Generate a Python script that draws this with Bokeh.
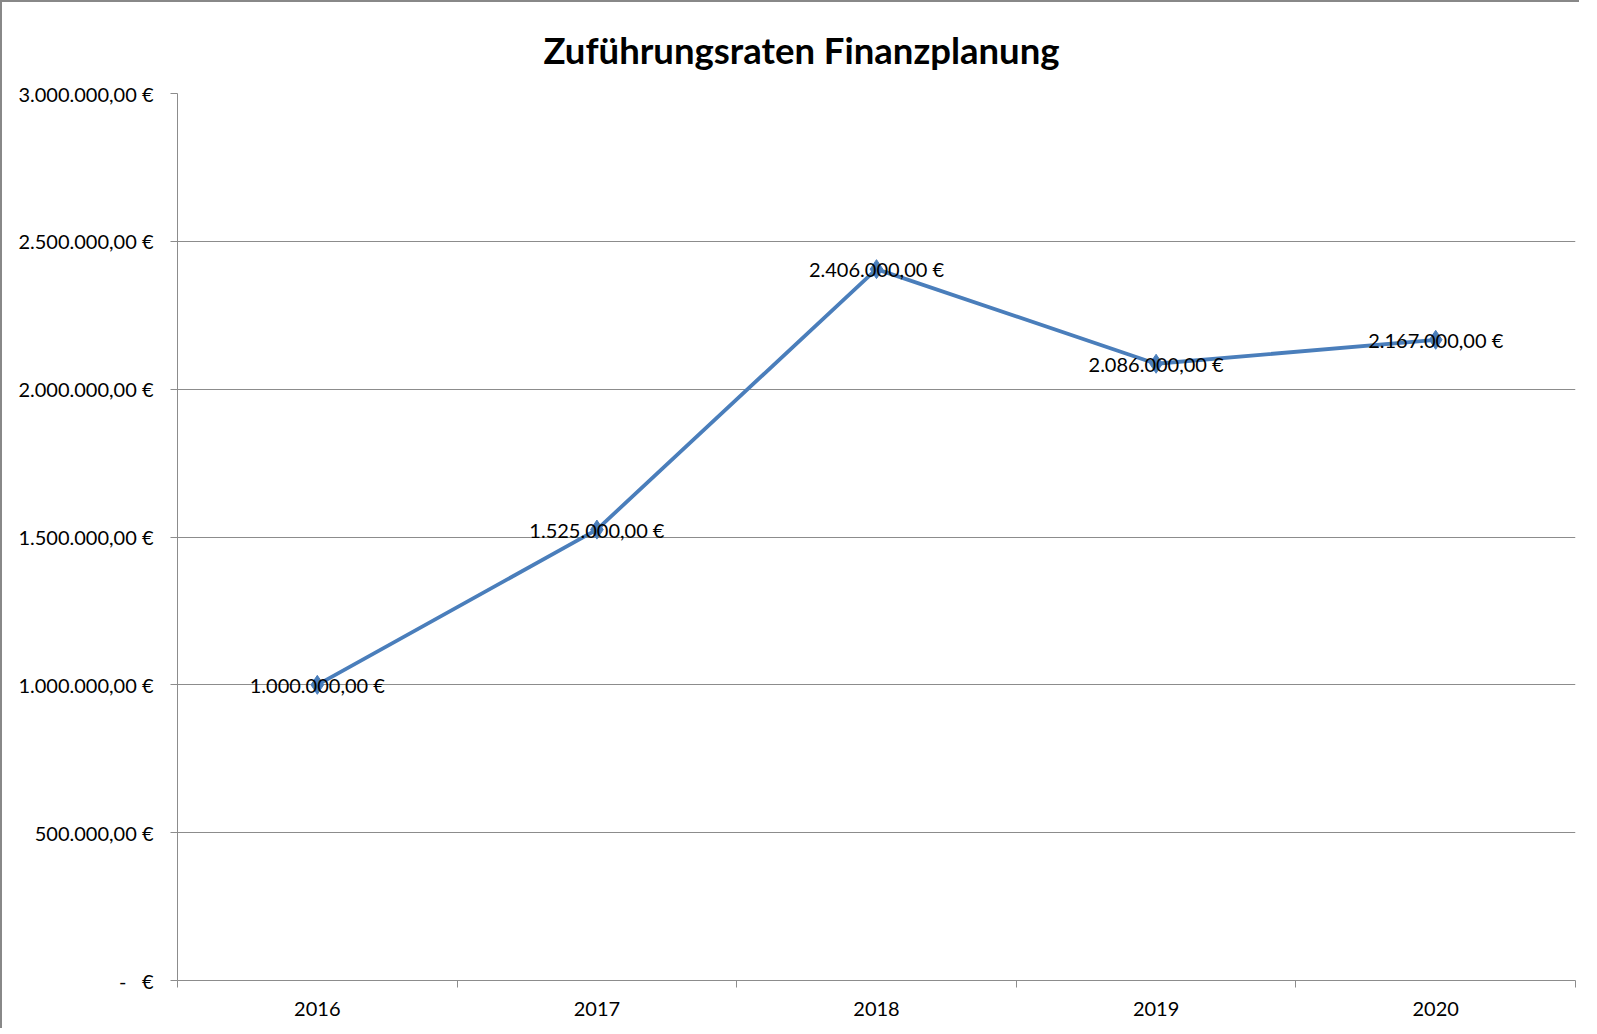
from bokeh.plotting import figure
from bokeh.models import Range1d, FixedTicker, ColumnDataSource, BasicTickFormatter
from bokeh.embed import file_html
from bokeh.resources import INLINE
from bokeh.core.properties import value

title = "Zuführungsraten Finanzplanung"
years = [2016, 2017, 2018, 2019, 2020]
values = [1000000, 1525000, 2406000, 2086000, 2167000]
y_ticks = [0, 500000, 1000000, 1500000, 2000000, 2500000, 3000000]
y_tick_labels = ["-\u00a0\u00a0\u00a0€", "500.000,00\u00a0€", "1.000.000,00\u00a0€",
                 "1.500.000,00\u00a0€", "2.000.000,00\u00a0€", "2.500.000,00\u00a0€",
                 "3.000.000,00\u00a0€"]

FONT = "Lato"
LINE = "#4A7EBB"
GRID = "#8C8C8C"


def eur(v):
    s = f"{v:,.2f}".replace(",", "X").replace(".", ",").replace("X", ".")
    return s + "\u00a0€"


src = ColumnDataSource(dict(x=years, y=values, lab=[eur(v) for v in values]))

p = figure(width=1579, height=1028, output_backend="svg", toolbar_location=None,
           title=title,
           x_range=Range1d(min(years) - 0.5, max(years) + 0.5),
           y_range=Range1d(y_ticks[0], y_ticks[-1]),
           min_border_left=175, min_border_right=6, min_border_top=91, min_border_bottom=50)
p.styles = {"border-top": "2px solid #888888", "border-left": "2px solid #888888"}
p.outline_line_color = None
p.background_fill_color = "white"
p.border_fill_color = "white"

p.title.align = "left"
p.title.offset = 366
p.title.standoff = 44
p.title.text_font = FONT
p.title.text_font_style = "bold"
p.title.text_font_size = "36.5px"
p.title.text_color = "#000000"

# x axis: labels at year centres, ticks at category boundaries
p.xaxis.ticker = FixedTicker(ticks=years, minor_ticks=[y - 0.5 for y in years] + [max(years) + 0.5])
p.xaxis.formatter = BasicTickFormatter(use_scientific=False)
p.xaxis.major_tick_out = 0
p.xaxis.major_tick_in = 0
p.xaxis.minor_tick_out = 7
p.xaxis.minor_tick_in = 0
p.xaxis.minor_tick_line_color = GRID
p.xaxis.axis_line_color = GRID
p.xaxis.major_label_standoff = 14
p.xaxis.major_label_text_font = FONT
p.xaxis.major_label_text_font_size = "20px"
p.xaxis.major_label_text_color = "#000000"
p.xgrid.grid_line_color = None

# y axis
p.yaxis.ticker = FixedTicker(ticks=y_ticks, minor_ticks=[])
p.yaxis.major_label_overrides = {t: l for t, l in zip(y_ticks, y_tick_labels)}
p.yaxis.major_tick_out = 7
p.yaxis.major_tick_in = 0
p.yaxis.major_tick_line_color = GRID
p.yaxis.minor_tick_line_color = None
p.yaxis.axis_line_color = GRID
p.yaxis.major_label_standoff = 17
p.yaxis.major_label_text_font = FONT
p.yaxis.major_label_text_font_size = "20px"
p.yaxis.major_label_text_color = "#000000"
p.ygrid.grid_line_color = GRID
p.ygrid.grid_line_width = 1

p.line("x", "y", source=src, line_color=LINE, line_width=3.8)
p.scatter("x", "y", source=src, marker="diamond", size=19, fill_color=LINE, line_color=LINE)
p.text("x", "y", text="lab", source=src, text_align="center", text_baseline="middle",
       text_font=value(FONT), text_font_size="20px", text_color="#000000")

open("out.html", "w").write(file_html(p, INLINE))
